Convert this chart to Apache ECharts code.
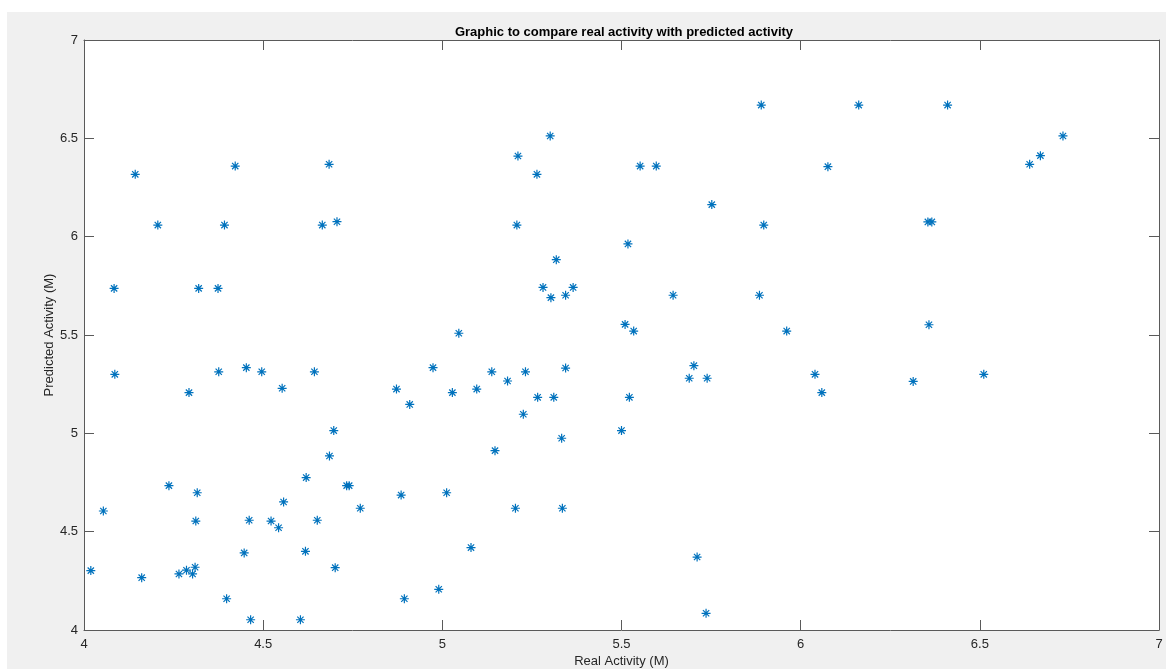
<!DOCTYPE html>
<html>
<head>
<meta charset="utf-8">
<title>Graphic to compare real activity with predicted activity</title>
<script src="https://cdn.jsdelivr.net/npm/echarts@6/dist/echarts.min.js"></script>
<style>
  html, body { margin: 0; padding: 0; background: #fff; }
  #chart { width: 1166px; height: 669px; }
</style>
</head>
<body>
<div id="chart"></div>
<script>
// values
var realActivity = [
  4.143, 4.422, 4.684, 4.206, 4.392, 4.665, 4.706, 4.084, 4.320, 4.374,
  4.086, 4.376, 4.453, 4.496, 4.643, 4.293, 4.553, 4.872, 4.974, 4.909,
  4.697, 4.685, 4.620, 4.733, 4.740, 4.237, 4.316, 4.885, 4.054, 4.557,
  4.771, 4.312, 4.461, 4.522, 4.651, 4.543, 4.447, 4.618, 4.701, 4.019,
  4.161, 4.265, 4.286, 4.303, 4.310, 4.398, 4.894, 4.990, 4.465, 4.604,
  5.890, 5.301, 5.211, 5.264, 5.552, 5.597, 5.752, 5.208, 5.897, 5.518,
  5.318, 5.281, 5.303, 5.344, 5.365, 5.644, 5.885, 5.046, 5.510, 5.534,
  5.961, 5.702, 5.689, 5.739, 5.138, 5.232, 5.344, 5.182, 5.028, 5.096,
  5.266, 5.311, 5.522, 5.226, 5.500, 5.333, 5.147, 5.012, 5.204, 5.335,
  5.080, 5.711, 5.736, 6.162, 6.410, 6.732, 6.669, 6.639, 6.076, 6.355,
  6.366, 6.358, 6.040, 6.059, 6.314, 6.511
];
var predictedActivity = [
  6.317, 6.359, 6.368, 6.059, 6.059, 6.059, 6.076, 5.737, 5.737, 5.737,
  5.300, 5.313, 5.334, 5.313, 5.313, 5.207, 5.229, 5.225, 5.334, 5.147,
  5.014, 4.885, 4.775, 4.734, 4.734, 4.734, 4.698, 4.686, 4.605, 4.651,
  4.619, 4.554, 4.558, 4.554, 4.558, 4.520, 4.392, 4.400, 4.317, 4.302,
  4.266, 4.285, 4.304, 4.285, 4.319, 4.159, 4.159, 4.207, 4.052, 4.052,
  6.669, 6.512, 6.410, 6.317, 6.359, 6.359, 6.163, 6.059, 6.059, 5.963,
  5.883, 5.742, 5.690, 5.702, 5.742, 5.702, 5.702, 5.509, 5.554, 5.520,
  5.520, 5.344, 5.280, 5.280, 5.313, 5.313, 5.332, 5.266, 5.207, 5.225,
  5.183, 5.183, 5.183, 5.097, 5.014, 4.975, 4.912, 4.698, 4.619, 4.619,
  4.419, 4.371, 4.085, 6.669, 6.669, 6.512, 6.412, 6.368, 6.356, 6.075,
  6.075, 5.552, 5.300, 5.207, 5.264, 5.300
];
var axisTicks = [4, 4.5, 5, 5.5, 6, 6.5, 7];

var points = [];
for (var i = 0; i < realActivity.length; i++) {
  points.push([realActivity[i], predictedActivity[i]]);
}

var axisColor = '#5a5a5a';
var textColor = '#262626';
var font = 'Liberation Sans, Arial, Helvetica, sans-serif';
// matlab style '*' marker
var star = 'path://M0,5L10,5M5,0L5,10M1.5,1.5L8.5,8.5M8.5,1.5L1.5,8.5';

function boxAxis(pos, show) {
  return {
    type: 'value',
    position: pos,
    min: axisTicks[0],
    max: axisTicks[axisTicks.length - 1],
    interval: 0.5,
    axisLine: { show: true, onZero: false, lineStyle: { color: axisColor, width: 1 } },
    axisTick: { show: true, inside: true, length: 10, lineStyle: { color: axisColor } },
    axisLabel: { show: show, color: textColor, fontSize: 13, fontFamily: font },
    splitLine: { show: false }
  };
}

var myChart = echarts.init(document.getElementById('chart'));

var xBottom = boxAxis('bottom', true);
xBottom.name = 'Real Activity (M)';
xBottom.nameLocation = 'middle';
xBottom.nameGap = 25;
xBottom.nameMoveOverlap = false;
xBottom.nameTextStyle = { color: textColor, fontSize: 13, fontFamily: font };
xBottom.axisLabel.margin = 8;

var yLeft = boxAxis('left', true);
yLeft.name = 'Predicted Activity (M)';
yLeft.nameLocation = 'middle';
yLeft.nameGap = 28;
yLeft.nameMoveOverlap = false;
yLeft.nameTextStyle = { color: textColor, fontSize: 13, fontFamily: font };
yLeft.axisLabel.margin = 6;

myChart.setOption({
  backgroundColor: '#fff',
  animation: false,
  graphic: [{
    type: 'rect',
    z: -10,
    shape: { x: 7, y: 12, width: 1159, height: 657 },
    style: { fill: '#f0f0f0' }
  }],
  title: {
    text: 'Graphic to compare real activity with predicted activity',
    left: 619,
    top: 21,
    textAlign: 'center',
    textStyle: { color: '#000', fontSize: 13, fontWeight: 'bold', fontFamily: font }
  },
  grid: {
    left: 84, top: 40, right: 7, bottom: 39,
    outerBoundsMode: 'none',
    show: true, backgroundColor: '#fff', borderWidth: 0
  },
  xAxis: [xBottom, boxAxis('top', false)],
  yAxis: [yLeft, boxAxis('right', false)],
  series: [{
    type: 'scatter',
    data: points,
    symbol: star,
    symbolSize: 9,
    itemStyle: { color: 'rgba(0,0,0,0)', borderColor: '#0072BD', borderWidth: 1.2, opacity: 1 }
  }]
});
</script>
</body>
</html>
